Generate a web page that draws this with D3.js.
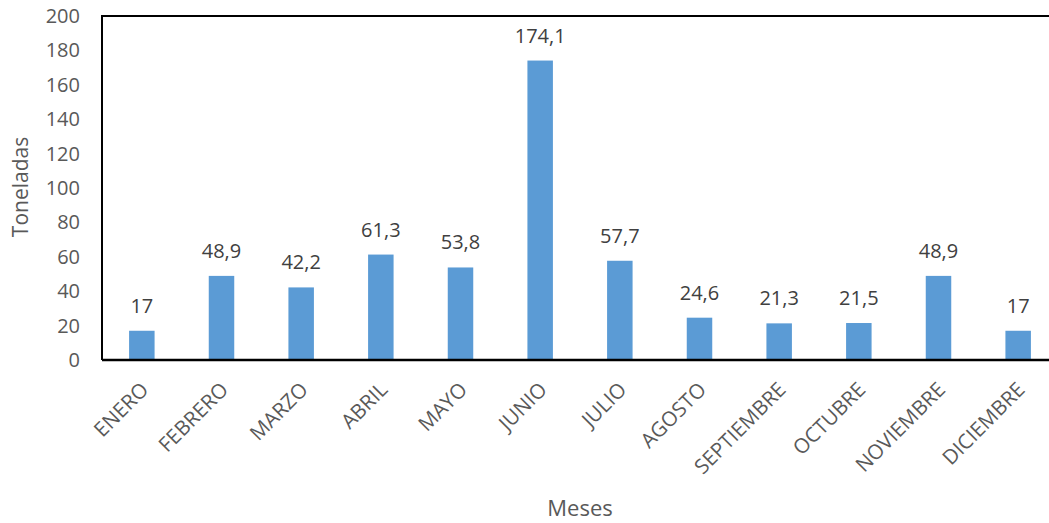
<!DOCTYPE html>
<html>
<head>
<meta charset="utf-8">
<script src="https://cdn.jsdelivr.net/npm/d3@7"></script>
<style>
  body { margin: 0; background: #fff; }
  svg { display: block; }
  text { font-family: "Open Sans", "Noto Sans", sans-serif; }
</style>
</head>
<body>
<svg id="chart" width="1049" height="523"></svg>
<script>
const months = ["ENERO", "FEBRERO", "MARZO", "ABRIL", "MAYO", "JUNIO", "JULIO",
  "AGOSTO", "SEPTIEMBRE", "OCTUBRE", "NOVIEMBRE", "DICIEMBRE"];
const tonnes = [17, 48.9, 42.2, 61.3, 53.8, 174.1, 57.7, 24.6, 21.3, 21.5, 48.9, 17];
const yTicks = [0, 20, 40, 60, 80, 100, 120, 140, 160, 180, 200];

const svg = d3.select("#chart");
const margin = { left: 102, top: 16, right: -9, bottom: 163 };
const W = 1049, H = 523;
const x = d3.scaleBand().domain(months)
  .range([margin.left, W - margin.right]).paddingInner(0.68).paddingOuter(0.34);
const y = d3.scaleLinear().domain([0, 200]).range([H - margin.bottom, margin.top]);

const fmt = v => String(v).replace(".", ",");

// bars
svg.append("g").selectAll("rect").data(tonnes).join("rect")
  .attr("x", (d, i) => x(months[i]))
  .attr("y", d => y(d))
  .attr("width", x.bandwidth())
  .attr("height", d => y(0) - y(d))
  .attr("fill", "#5B9BD5");

// value labels
svg.append("g").selectAll("text").data(tonnes).join("text")
  .attr("x", (d, i) => x(months[i]) + x.bandwidth() / 2)
  .attr("y", d => y(d) - 18)
  .attr("text-anchor", "middle")
  .attr("font-size", 20)
  .attr("fill", "#404040")
  .text(fmt);

// frame lines
svg.append("line").attr("x1", margin.left).attr("x2", W).attr("y1", y(200)).attr("y2", y(200))
  .attr("stroke", "#000").attr("stroke-width", 2);
svg.append("line").attr("x1", margin.left).attr("x2", W).attr("y1", y(0)).attr("y2", y(0))
  .attr("stroke", "#000").attr("stroke-width", 2.5);
svg.append("line").attr("x1", margin.left).attr("x2", margin.left).attr("y1", y(200) - 1).attr("y2", y(0))
  .attr("stroke", "#000").attr("stroke-width", 2);

// y axis
const yAxis = svg.append("g").attr("transform", `translate(${margin.left},0)`)
  .call(d3.axisLeft(y).tickValues(yTicks).tickSize(0).tickPadding(22));
yAxis.select(".domain").remove();
yAxis.selectAll("text").attr("font-size", 20).attr("fill", "#595959")
  .style("font-family", '"Open Sans", sans-serif');

// x axis category labels
const xAxis = svg.append("g").attr("transform", `translate(0,${y(0)})`)
  .call(d3.axisBottom(x).tickSize(0).tickPadding(0));
xAxis.select(".domain").remove();
xAxis.selectAll("text")
  .attr("font-size", 20.5).attr("fill", "#595959")
  .style("font-family", '"Open Sans", sans-serif')
  .attr("text-anchor", "end")
  .attr("dy", 0)
  .attr("transform", "translate(8,31) rotate(-45)");

// axis titles
svg.append("text").attr("x", 580).attr("y", 516).attr("text-anchor", "middle")
  .attr("font-size", 22).attr("fill", "#595959").text("Meses");
svg.append("text").attr("transform", "translate(28,187) rotate(-90)").attr("text-anchor", "middle")
  .attr("font-size", 21).attr("fill", "#595959").text("Toneladas");
</script>
</body>
</html>
